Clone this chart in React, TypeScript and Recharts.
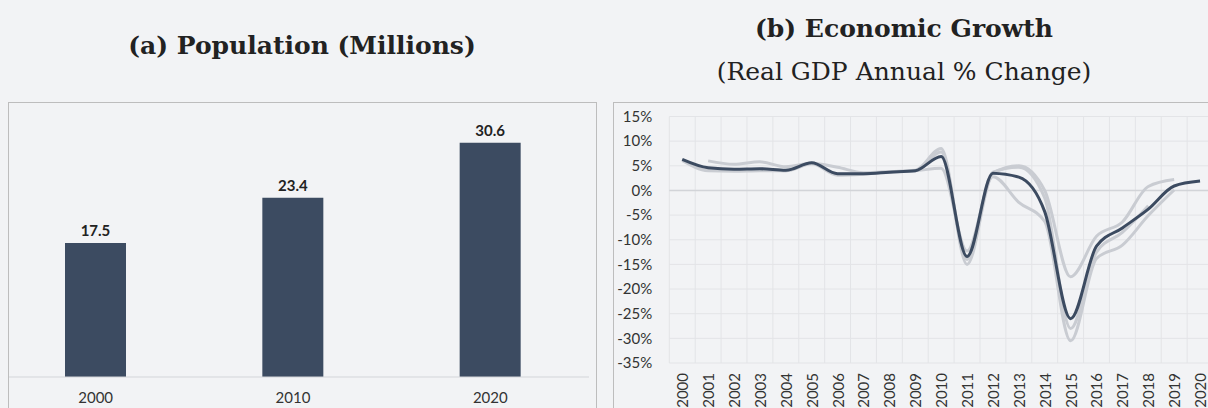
import React from "react"
import {
  Bar,
  BarChart,
  CartesianGrid,
  LabelList,
  Line,
  LineChart,
  ReferenceLine,
  XAxis,
  YAxis,
} from "recharts"

// (a) population, millions
const popYears = ["2000", "2010", "2020"]
const popValues = [17.5, 23.4, 30.6]

// (b) real GDP growth, %
const gdpYears = [
  2000, 2001, 2002, 2003, 2004, 2005, 2006, 2007, 2008, 2009, 2010,
  2011, 2012, 2013, 2014, 2015, 2016, 2017, 2018, 2019, 2020,
]
const gdpActual = [
  6.3, 4.6, 4.3, 4.4, 4.1, 5.6, 3.4, 3.4, 3.7, 4.0, 6.9,
  -13.4, 3.5, 2.7, -4.3, -26.0, -11.3, -7.6, -3.8, 0.9, 1.9,
]
// earlier vintages drawn in light grey
const gdpVintageA = [
  null, 6.0, 5.3, 5.8, 4.8, 5.5, 4.7, 3.6, 3.8, 4.1, 8.5,
  -15.0, 3.5, 5.0, 0.0, -17.5, -9.3, -6.4, 0.8, 2.2, null,
]
const gdpVintageB = [
  6.1, 4.0, 3.9, 4.0, 4.0, 5.4, 3.1, 3.3, 3.7, 4.0, 4.5,
  -12.3, 2.8, -2.4, -6.3, -30.5, -13.8, -11.1, -5.1, 0.1, null,
]
const gdpVintageC = [
  null, 4.4, 4.2, 4.3, 4.0, 5.5, 3.3, 3.4, 3.8, 4.0, 7.8,
  -14.0, 3.7, 4.7, -1.5, -28.0, -12.5, -8.5, -3.1, null, null,
]
const gdpTicks = [-35, -30, -25, -20, -15, -10, -5, 0, 5, 10, 15]

const BG = "#f2f3f5"
const NAVY = "#3c4b61"
const GREY_LINE = "#c9ccd2"
const TICK_FONT = "Lato, 'Open Sans', sans-serif"

const popData = popYears.map((y, i) => ({ year: y, value: popValues[i] }))
const gdpData = gdpYears.map((y, i) => ({
  year: y,
  actual: gdpActual[i],
  a: gdpVintageA[i],
  b: gdpVintageB[i],
  c: gdpVintageC[i],
}))

const titleStyle: React.CSSProperties = {
  position: "absolute",
  fontFamily: "'DejaVu Serif', serif",
  color: "#222",
  textAlign: "center",
  whiteSpace: "nowrap",
  fontSize: 25,
  lineHeight: "28px",
}

function YearTick(props: any) {
  const { x, y, payload } = props
  return (
    <text
      x={x}
      y={y}
      transform={`rotate(-90 ${x} ${y})`}
      textAnchor="end"
      dominantBaseline="central"
      fontSize={15}
      fontFamily={TICK_FONT}
      fill="#333"
    >
      {payload.value}
    </text>
  )
}

export default function App() {
  return (
    <div
      style={{
        position: "fixed",
        left: 0,
        top: 0,
        width: 1208,
        height: 408,
        overflow: "hidden",
        background: BG,
      }}
    >
      <div style={{ ...titleStyle, left: 0, width: 604, top: 32, fontWeight: 700 }}>
        (a) Population (Millions)
      </div>
      <div style={{ ...titleStyle, left: 604, width: 600, top: 15, fontWeight: 700 }}>
        (b) Economic Growth
      </div>
      <div style={{ ...titleStyle, left: 604, width: 600, top: 58 }}>
        (Real GDP Annual % Change)
      </div>

      {/* panel a */}
      <div
        style={{
          position: "absolute",
          left: 8,
          top: 102,
          width: 587,
          height: 340,
          border: "1px solid #bdbdbd",
        }}
      >
        <BarChart
          width={587}
          height={304}
          data={popData}
          margin={{ top: 6, right: 7, bottom: 0, left: 0 }}
        >
          <XAxis
            dataKey="year"
            height={30}
            padding={{ left: -12, right: 0 }}
            axisLine={{ stroke: "#d3d5d9" }}
            tickLine={false}
            tickSize={6}
            tickMargin={9}
            tick={{ fontSize: 15, fontFamily: TICK_FONT, fill: "#333" }}
          />
          <YAxis hide domain={[0, 35]} />
          <Bar dataKey="value" fill={NAVY} barSize={61} isAnimationActive={false}>
            <LabelList
              dataKey="value"
              position="top"
              offset={7}
              style={{ fontSize: 15, fontWeight: 700, fontFamily: TICK_FONT, fill: "#222" }}
              formatter={(v: any) => Number(v).toFixed(1)}
            />
          </Bar>
        </BarChart>
      </div>

      {/* panel b */}
      <div
        style={{
          position: "absolute",
          left: 613,
          top: 102,
          width: 620,
          height: 340,
          border: "1px solid #bdbdbd",
        }}
      >
        <LineChart
          width={599}
          height={305}
          data={gdpData}
          margin={{ top: 13.5, right: 0, bottom: 0, left: 0 }}
        >
          <CartesianGrid
            stroke="#e3e4e7"
            verticalCoordinatesGenerator={({ offset }: any) =>
              gdpYears
                .concat([gdpYears[gdpYears.length - 1] + 1])
                .map((_, k) => offset.left + (k * offset.width) / gdpYears.length)
            }
          />
          <XAxis
            dataKey="year"
            type="number"
            domain={[1999.5, 2020.5]}
            ticks={gdpYears}
            interval={0}
            height={45}
            axisLine={false}
            tickLine={false}
            tickSize={0}
            tickMargin={10}
            tick={<YearTick />}
          />
          <YAxis
            width={55.3}
            domain={[-35, 15]}
            ticks={gdpTicks}
            interval={0}
            axisLine={false}
            tickLine={false}
            tickSize={0}
            tickMargin={17}
            tickFormatter={(v: number) => `${v}%`}
            tick={{ fontSize: 15, fontFamily: TICK_FONT, fill: "#333" }}
          />
          <ReferenceLine y={0} stroke="#d2d4d8" strokeWidth={1.5} />
          {["a", "b", "c"].map((k) => (
            <Line
              key={k}
              type="monotone"
              dataKey={k}
              stroke={GREY_LINE}
              strokeWidth={3}
              dot={false}
              activeDot={false}
              isAnimationActive={false}
            />
          ))}
          <Line
            type="monotone"
            dataKey="actual"
            stroke={NAVY}
            strokeWidth={3}
            dot={false}
            activeDot={false}
            isAnimationActive={false}
          />
        </LineChart>
      </div>
    </div>
  )
}
